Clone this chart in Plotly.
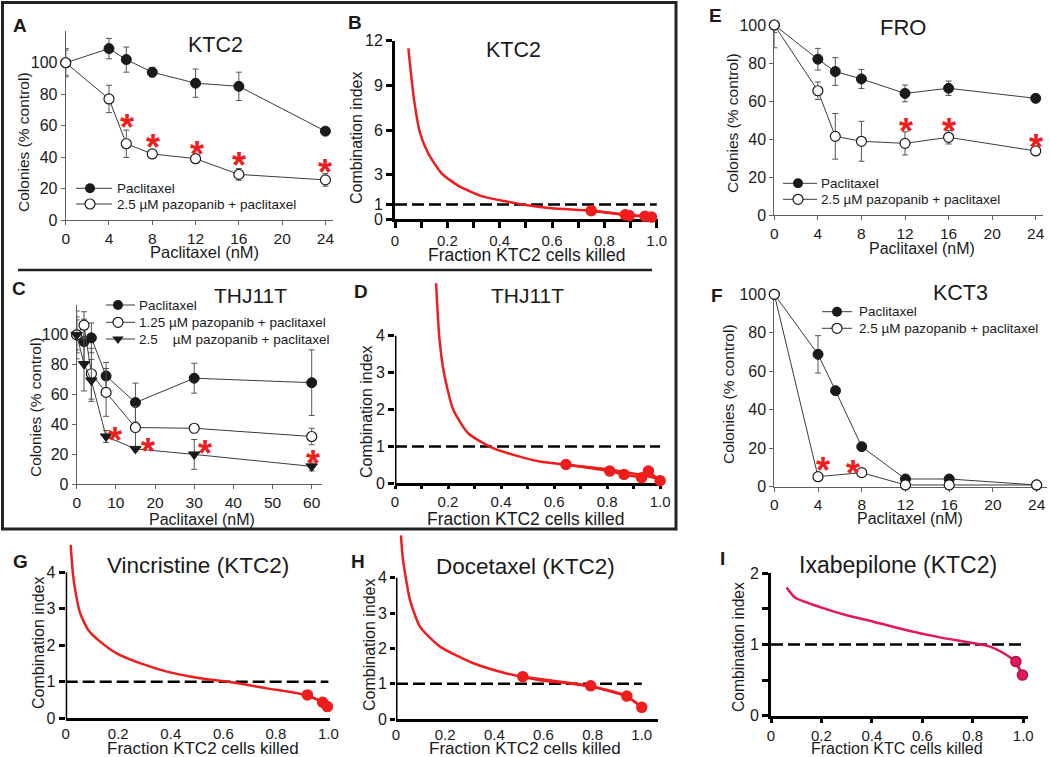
import plotly.graph_objects as go

W, H = 1050, 757
FONT = "Liberation Sans, Arial, Helvetica, sans-serif"
INK = "#1a1a1a"
LINE = "#3a3a3a"
ERR = "#555555"
RED = "#ef1d1d"
PINK = "#e2185a"

# ---------------- data ----------------
# A  KTC2 colony formation
a_dose = [0, 4, 5.6, 8, 12, 16, 24]
a_pac = [100, 109, 102, 94, 87, 85, 56.5]
a_pac_err = [8, 6.5, 8, 3, 9, 9, 1.5]
a_combo = [100, 77, 48.5, 42, 39, 29, 25.5]
a_combo_err = [9, 8.7, 8.7, 2, 2.5, 3.7, 4]
a_star_x = [5.7, 8.1, 12.1, 16.0, 24.0]
a_star_y = [63.6, 51, 46.6, 39.6, 35]

# B  KTC2 combination index
b_fa = [0.051, 0.073, 0.096, 0.127, 0.178, 0.248, 0.338, 0.427, 0.5, 0.6, 0.75, 0.9, 0.98]
b_ci = [11.48, 8.01, 5.78, 4.43, 3.09, 2.19, 1.52, 1.19, 0.96, 0.74, 0.58, 0.29, 0.18]
b_pt_fa = [0.75, 0.88, 0.895, 0.955, 0.98]
b_pt_ci = [0.58, 0.3, 0.25, 0.2, 0.15]

# C  THJ11T colony formation
c_dose = [0, 1.875, 3.75, 7.5, 15, 30, 60]
c_pac = [100, 95.5, 98, 72.5, 54.7, 71, 68]
c_pac_err = [16, 15, 10, 9, 13, 10, 22]
c_low = [100, 106.5, 74, 61.5, 38, 37.5, 32]
c_low_err = [12, 9, 17, 16, 14, 0, 5.5]
c_high = [100, 80.5, 69.5, 32, 23.7, 20, 12]
c_high_err = [10, 18, 14, 4, 0, 10, 3]
c_star_x = [9.8, 18.3, 32.8, 60.4]
c_star_y = [34.8, 27, 25.7, 19.6]

# D  THJ11T combination index
d_fa = [0.155, 0.167, 0.185, 0.22, 0.277, 0.365, 0.447, 0.547, 0.648, 0.8, 0.925, 1.0]
d_ci = [5.42, 3.97, 2.98, 1.99, 1.35, 0.97, 0.77, 0.59, 0.5, 0.38, 0.23, 0.11]
d_pt_fa = [0.645, 0.81, 0.864, 0.93, 0.956, 1.0]
d_pt_ci = [0.51, 0.33, 0.24, 0.15, 0.33, 0.07]

# E  FRO colony formation
e_dose = [0, 4, 5.6, 8, 12, 16, 24]
e_pac = [100, 82, 75.5, 71.6, 64, 66.7, 61.4]
e_pac_err = [4, 5.7, 7.3, 5, 4.4, 3.8, 2]
e_combo = [100, 65.4, 41.4, 38.8, 37.7, 40.9, 33.7]
e_combo_err = [12, 4.6, 12, 10.5, 6.1, 3.5, 1]
e_star_x = [12.06, 16.07, 24.03]
e_star_y = [47.9, 47.9, 39.8]

# F  KCT3 colony formation
f_dose = [0, 4, 5.6, 8, 12, 16, 24]
f_pac = [100, 68.8, 49.9, 20.8, 4, 4, 0.9]
f_pac_err = [0, 9.7, 0, 0, 0, 0, 0]
f_combo_dose = [0, 4, 8, 12, 16, 24]
f_combo = [100, 5.2, 7.3, 0.9, 0.9, 0.9]
f_star_x = [4.5, 7.2]
f_star_y = [12.7, 10.9]

# G  Vincristine (KTC2)
g_fa = [0.019, 0.027, 0.036, 0.055, 0.086, 0.131, 0.194, 0.283, 0.385, 0.511, 0.638, 0.765, 0.892, 0.968, 0.998]
g_ci = [4.75, 4.0, 3.52, 2.88, 2.42, 2.1, 1.78, 1.51, 1.28, 1.1, 0.98, 0.82, 0.67, 0.48, 0.3]
g_pt_fa = [0.92, 0.978, 0.996]
g_pt_ci = [0.64, 0.44, 0.32]

# H  Docetaxel (KTC2)
h_fa = [0.02, 0.027, 0.037, 0.057, 0.098, 0.179, 0.315, 0.45, 0.586, 0.722, 0.858, 0.939, 0.996]
h_ci = [5.2, 4.6, 4.12, 3.37, 2.61, 2.05, 1.58, 1.29, 1.1, 0.99, 0.82, 0.65, 0.35]
h_pt_fa = [0.516, 0.792, 0.939, 1.0]
h_pt_ci = [1.2, 0.94, 0.65, 0.33]

# I  Ixabepilone (KTC2)
i_fa = [0.062, 0.095, 0.207, 0.3, 0.406, 0.538, 0.67, 0.8, 0.868, 0.921, 0.967, 0.997]
i_ci = [1.8, 1.66, 1.51, 1.41, 1.32, 1.2, 1.1, 1.02, 0.97, 0.88, 0.76, 0.57]
i_pt_fa = [0.971, 0.997]
i_pt_ci = [0.76, 0.57]

colony_xticks = [0, 4, 8, 12, 16, 20, 24]
colony_yticks = [0, 20, 40, 60, 80, 100]
thj_xticks = [0, 10, 20, 30, 40, 50, 60]
fa_ticks = [0, 0.2, 0.4, 0.6, 0.8, 1.0]
fa_labels = ["0", "0.2", "0.4", "0.6", "0.8", "1.0"]

fig = go.Figure()
layout = dict(width=W, height=H, margin=dict(l=0, r=0, t=0, b=0, autoexpand=False),
              paper_bgcolor="white", plot_bgcolor="rgba(0,0,0,0)",
              showlegend=False, font=dict(family=FONT, color=INK))
annotations = []
shapes = []


def fx(x):
    return x / W


def fy(y):
    return 1 - y / H


def add_axes(n, xpx, ypx, xr, yr, kind, xticks, yticks, xlabels=None, ylabels=None, yline=True, xticklen=None):
    s = "" if n == 1 else str(n)
    if kind == "thin":
        base = dict(showgrid=False, zeroline=False, showline=True, linecolor="#606060", linewidth=1,
                    ticks="outside", ticklen=4, tickwidth=1, tickcolor="#606060",
                    layer="below traces", fixedrange=True, automargin=False)
        xfont = dict(size=15.5, color=INK, family=FONT)
        yfont = dict(size=16, color=INK, family=FONT)
    else:
        base = dict(showgrid=False, zeroline=False, showline=True, linecolor="black", linewidth=3,
                    ticks="outside", ticklen=6, tickwidth=2.5, tickcolor="black",
                    layer="below traces", fixedrange=True, automargin=False)
        xfont = dict(size=15, color=INK, family=FONT)
        yfont = dict(size=16, color=INK, family=FONT)
    xa = dict(base, domain=[fx(xpx[0]), fx(xpx[1])], range=xr, anchor="y" + s,
              tickmode="array", tickvals=xticks, tickfont=xfont)
    if xticklen is not None:
        if xticklen == 0:
            xa["ticks"] = ""
        xa["ticklen"] = xticklen
    if xlabels is not None:
        xa["ticktext"] = xlabels
    ya = dict(base, domain=[fy(ypx[1]), fy(ypx[0])], range=yr, anchor="x" + s,
              tickmode="array", tickvals=yticks, tickfont=yfont)
    if ylabels is not None:
        ya["ticktext"] = ylabels
    if not yline:
        ya["showline"] = False
    layout["xaxis" + s] = xa
    layout["yaxis" + s] = ya
    return "x" + s, "y" + s


def ann(text, xp, yp, size, bold=False, angle=0, color=INK, xanchor="center"):
    annotations.append(dict(text=("<b>%s</b>" % text) if bold else text, x=fx(xp), y=fy(yp),
                            xref="paper", yref="paper", showarrow=False, textangle=angle,
                            xanchor=xanchor, yanchor="middle",
                            font=dict(size=size, color=color, family=FONT)))


def stars(xs, ys, xa, ya):
    for x, y in zip(xs, ys):
        annotations.append(dict(text="<b>*</b>", x=x, y=y, xref=xa, yref=ya, showarrow=False,
                                xanchor="center", yanchor="middle", yshift=-8,
                                font=dict(size=36, color=RED, family=FONT)))


def colony(xa, ya, x, y, err, style):
    if style == "filled":
        marker = dict(symbol="circle", size=10, color=INK, line=dict(color=INK, width=1))
    elif style == "open":
        marker = dict(symbol="circle", size=10, color="white", line=dict(color=INK, width=1.2))
    else:
        marker = dict(symbol="triangle-down", size=10, color=INK, line=dict(color=INK, width=1))
    eb = dict(type="data", array=err, color=ERR, thickness=1, width=3, visible=True) if err else None
    fig.add_trace(go.Scatter(x=x, y=y, error_y=eb, mode="lines+markers", marker=marker,
                             line=dict(color=LINE, width=1), xaxis=xa, yaxis=ya,
                             cliponaxis=False, hoverinfo="skip"))


def ci_panel(xa, ya, fa, ci, pfa, pci, color=RED, mline=None, msize=10):
    fig.add_trace(go.Scatter(x=[0, 1.0], y=[1, 1], mode="lines",
                             line=dict(color="black", width=2.5, dash="12px,5px"),
                             xaxis=xa, yaxis=ya, hoverinfo="skip"))
    fig.add_trace(go.Scatter(x=fa, y=ci, mode="lines", line=dict(color=color, width=2.5, shape="spline", smoothing=0.6),
                             xaxis=xa, yaxis=ya, hoverinfo="skip"))
    fig.add_trace(go.Scatter(x=pfa, y=pci, mode="lines+markers",
                             line=dict(color=color, width=2.5),
                             marker=dict(size=msize, color=color, line=dict(color=mline or color, width=1.5)),
                             xaxis=xa, yaxis=ya, cliponaxis=False, hoverinfo="skip"))


# ---------- Panel A ----------
xa, ya = add_axes(1, (65.7, 333), (31.3, 220), [0, 24.7], [0, 120], "thin", colony_xticks, colony_yticks)
colony(xa, ya, a_dose, a_pac, a_pac_err, "filled")
colony(xa, ya, a_dose, a_combo, a_combo_err, "open")
stars(a_star_x, a_star_y, xa, ya)

# ---------- Panel B ----------
xa, ya = add_axes(2, (395, 658.3), (40.7, 219.3), [0, 1.006], [0, 12], "thick", fa_ticks, [0, 1, 3, 6, 9, 12], fa_labels)
layout["xaxis2"]["minor"] = dict(tickvals=[0.1, 0.3, 0.5, 0.7, 0.9], ticks="outside", ticklen=6, tickwidth=2.5, tickcolor="black")
ci_panel(xa, ya, b_fa, b_ci, b_pt_fa, b_pt_ci)

# ---------- Panel C ----------
xa, ya = add_axes(3, (76.7, 321.7), (305, 484.3), [0, 62.55], [0, 120], "thin", thj_xticks, colony_yticks)
colony(xa, ya, c_dose, c_pac, c_pac_err, "filled")
colony(xa, ya, c_dose, c_low, c_low_err, "open")
colony(xa, ya, c_dose, c_high, c_high_err, "tri")
stars(c_star_x, c_star_y, xa, ya)

# ---------- Panel D ----------
xa, ya = add_axes(4, (395, 661.7), (282.2, 483.3), [0, 1.006], [0, 5.45], "thick", fa_ticks, [0, 1, 2, 3, 4], fa_labels, yline=False, xticklen=3)
layout["xaxis4"]["minor"] = dict(tickvals=[0.1, 0.3, 0.5, 0.7, 0.9], ticks="outside", ticklen=3, tickwidth=2.5, tickcolor="black")
shapes.append(dict(type="line", xref=xa, yref=ya, x0=0, x1=0, y0=0, y1=4, line=dict(color="black", width=3)))
ci_panel(xa, ya, d_fa, d_ci, d_pt_fa, d_pt_ci)

# ---------- Panel E ----------
xa, ya = add_axes(5, (774.3, 1043), (25, 215), [0, 24.67], [0, 100], "thin", colony_xticks, colony_yticks)
colony(xa, ya, e_dose, e_pac, e_pac_err, "filled")
colony(xa, ya, e_dose, e_combo, e_combo_err, "open")
stars(e_star_x, e_star_y, xa, ya)

# ---------- Panel F ----------
xa, ya = add_axes(6, (774.3, 1046.7), (294.3, 486.7), [0, 24.92], [0, 100], "thin", colony_xticks, colony_yticks)
colony(xa, ya, f_dose, f_pac, f_pac_err, "filled")
colony(xa, ya, f_combo_dose, f_combo, None, "open")
stars(f_star_x, f_star_y, xa, ya)

# ---------- Panel G ----------
xa, ya = add_axes(7, (65.7, 330), (541.3, 718.3), [0, 1.006], [0, 4.85], "thick", fa_ticks, [0, 1, 2, 3, 4], fa_labels, yline=False, xticklen=0)
shapes.append(dict(type="line", xref=xa, yref=ya, x0=0, x1=0, y0=0, y1=4, line=dict(color="black", width=3)))
ci_panel(xa, ya, g_fa, g_ci, g_pt_fa, g_pt_ci)

# ---------- Panel H ----------
xa, ya = add_axes(8, (396, 658), (533.7, 719), [0, 1.066], [0, 5.25], "thick", fa_ticks, [0, 1, 2, 3, 4], fa_labels, yline=False, xticklen=0)
layout["yaxis8"]["ticklen"] = 5
shapes.append(dict(type="line", xref=xa, yref=ya, x0=0, x1=0, y0=0, y1=4, line=dict(color="black", width=3)))
ci_panel(xa, ya, h_fa, h_ci, h_pt_fa, h_pt_ci)

# ---------- Panel I ----------
xa, ya = add_axes(9, (771, 1028), (573.3, 715.7), [0, 1.019], [0, 2], "thick", fa_ticks, [0, 0.5, 1, 1.5, 2], fa_labels, ["0", "", "1", "", "2"], xticklen=4)
ci_panel(xa, ya, i_fa, i_ci, i_pt_fa, i_pt_ci, color=PINK, mline="#b01048")

# ---------- pixel overlay for legend keys ----------
layout["xaxis10"] = dict(domain=[0, 1], range=[0, W], visible=False, fixedrange=True, anchor="y10", automargin=False)
layout["yaxis10"] = dict(domain=[0, 1], range=[H, 0], visible=False, fixedrange=True, anchor="x10", automargin=False)

legends = [
    # (line x0, marker x, line x1, text x, rows)
    (76, 90, 112, 115, [(188.3, "filled", "Paclitaxel"), (204, "open", "2.5 µM pazopanib + paclitaxel")]),
    (106, 118, 135, 137, [(305, "filled", "Paclitaxel"), (322.3, "open", "1.25 µM pazopanib + paclitaxel"),
                          (339, "tri", "2.5 \u00a0\u00a0 µM pazopanib + paclitaxel")]),
    (783, 798, 817, 819, [(183.3, "filled", "Paclitaxel"), (199.3, "open", "2.5 µM pazopanib + paclitaxel")]),
    (822, 837, 852, 857, [(311.7, "filled", "Paclitaxel"), (328.3, "open", "2.5 µM pazopanib + paclitaxel")]),
]
for x0, xm, x1, xt, rows in legends:
    for yy, style, label in rows:
        fig.add_trace(go.Scatter(x=[x0, x1], y=[yy, yy], mode="lines", line=dict(color=LINE, width=1),
                                 xaxis="x10", yaxis="y10", hoverinfo="skip"))
        if style == "filled":
            mk = dict(symbol="circle", size=10, color=INK)
        elif style == "open":
            mk = dict(symbol="circle", size=10, color="white", line=dict(color=INK, width=1.2))
        else:
            mk = dict(symbol="triangle-down", size=10, color=INK)
        fig.add_trace(go.Scatter(x=[xm], y=[yy], mode="markers", marker=mk,
                                 xaxis="x10", yaxis="y10", cliponaxis=False, hoverinfo="skip"))
        ann(label, xt, yy, 13.5, xanchor="left")

# ---------- panel letters and titles ----------
for letter, xp, yp in [("A", 20, 25), ("B", 355, 23), ("C", 19, 288), ("D", 361, 291), ("E", 715, 15),
                       ("F", 717, 295), ("G", 20, 561), ("H", 358, 561), ("I", 722, 558)]:
    ann(letter, xp, yp, 19, bold=True)

for t, xp, yp, sz in [("KTC2", 215, 45, 21.5), ("KTC2", 513, 50, 21.5), ("THJ11T", 250, 295, 21),
                      ("THJ11T", 527, 295, 21), ("FRO", 903, 27, 22), ("KCT3", 960, 293, 21.5),
                      ("Vincristine (KTC2)", 198, 565, 22.5), ("Docetaxel (KTC2)", 525, 566, 22.5),
                      ("Ixabepilone (KTC2)", 898, 565, 23)]:
    ann(t, xp, yp, sz)

# ---------- axis titles ----------
COL = "Colonies (% control)"
PAC = "Paclitaxel (nM)"
CI = "Combination index"
FR = "Fraction KTC2 cells killed"
for t, xp, yp, sz, ang in [
    (COL, 23, 142, 15.5, -90), (PAC, 204, 251.5, 16.5, 0),
    (CI, 357, 138, 16, -90), (FR, 526, 255, 17.5, 0),
    (COL, 35, 407, 15.5, -90), (PAC, 202, 519.5, 16, 0),
    (CI, 366, 412, 16, -90), (FR, 525, 519, 17.5, 0),
    (COL, 732, 123, 15.5, -90), (PAC, 922, 248.5, 16, 0),
    (COL, 728, 394, 15.5, -90), (PAC, 910, 518.5, 16, 0),
    (CI, 38, 643, 16, -90), (FR, 203, 748, 17, 0),
    (CI, 369, 645, 16, -90), (FR, 525, 748, 17, 0),
    (CI, 738, 647, 15.7, -90), ("Fraction KTC cells killed", 897, 748, 16, 0),
]:
    ann(t, xp, yp, sz, angle=ang)

# ---------- frame and separator ----------
shapes.append(dict(type="rect", xref="paper", yref="paper", x0=fx(2.5), x1=fx(676), y0=fy(529), y1=fy(2.5),
                   line=dict(color="#222222", width=3), layer="above"))
shapes.append(dict(type="line", xref="paper", yref="paper", x0=fx(18), x1=fx(652), y0=fy(270), y1=fy(270),
                   line=dict(color="#222222", width=2.5)))

layout["annotations"] = annotations
layout["shapes"] = shapes
fig.update_layout(**layout)
fig.write_html("out.html", config={"displayModeBar": False},
               post_script="document.body.style.margin='0px';document.body.style.padding='0px';")
